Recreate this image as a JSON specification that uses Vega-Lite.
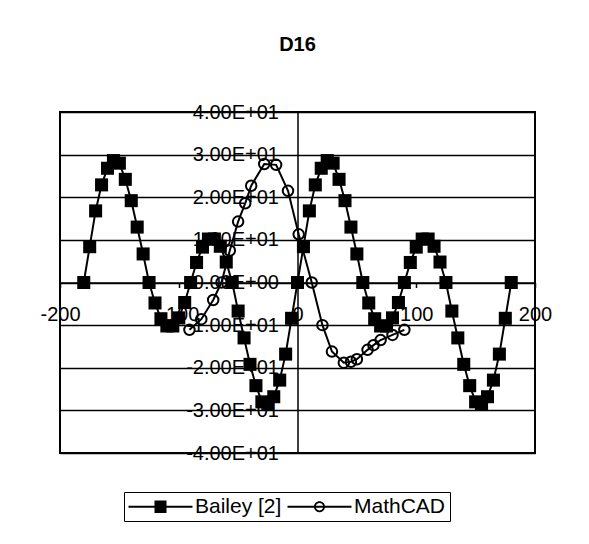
{
  "$schema": "https://vega.github.io/schema/vega-lite/v6.json",
  "width": 475,
  "height": 341,
  "padding": {"left": 60, "top": 112, "right": 54, "bottom": 91},
  "autosize": {"type": "none"},
  "background": "white",
  "title": {
    "text": "D16",
    "font": "Liberation Sans",
    "fontSize": 20,
    "fontWeight": "bold",
    "color": "black",
    "anchor": "middle",
    "offset": 47
  },
  "config": {
    "font": "Liberation Sans",
    "view": {"stroke": "black", "strokeWidth": 2}
  },
  "datasets": {
    "bailey": [
      {"x": -180, "y": 0}, {"x": -175, "y": 8.4}, {"x": -170, "y": 16.8}, {"x": -165, "y": 22.9},
      {"x": -160, "y": 26.8}, {"x": -155, "y": 28.6}, {"x": -150, "y": 28.0}, {"x": -145, "y": 24.2},
      {"x": -140, "y": 19.2}, {"x": -135, "y": 13.0}, {"x": -130, "y": 6.7}, {"x": -125, "y": 0},
      {"x": -120, "y": -4.8}, {"x": -115, "y": -8.5}, {"x": -110, "y": -10.2}, {"x": -105, "y": -10.2},
      {"x": -100, "y": -8.3}, {"x": -95, "y": -4.7}, {"x": -90, "y": 0}, {"x": -85, "y": 4.7},
      {"x": -80, "y": 8.3}, {"x": -75, "y": 10.2}, {"x": -70, "y": 10.2}, {"x": -65, "y": 8.5},
      {"x": -60, "y": 4.8}, {"x": -55, "y": 0}, {"x": -50, "y": -6.7}, {"x": -45, "y": -13.0},
      {"x": -40, "y": -19.2}, {"x": -35, "y": -24.2}, {"x": -30, "y": -28.0}, {"x": -25, "y": -28.6},
      {"x": -20, "y": -26.8}, {"x": -15, "y": -22.9}, {"x": -10, "y": -16.8}, {"x": -5, "y": -8.4},
      {"x": 0, "y": 0}, {"x": 5, "y": 8.4}, {"x": 10, "y": 16.8}, {"x": 15, "y": 22.9},
      {"x": 20, "y": 26.8}, {"x": 25, "y": 28.6}, {"x": 30, "y": 28.0}, {"x": 35, "y": 24.2},
      {"x": 40, "y": 19.2}, {"x": 45, "y": 13.0}, {"x": 50, "y": 6.7}, {"x": 55, "y": 0},
      {"x": 60, "y": -4.8}, {"x": 65, "y": -8.5}, {"x": 70, "y": -10.2}, {"x": 75, "y": -10.2},
      {"x": 80, "y": -8.3}, {"x": 85, "y": -4.7}, {"x": 90, "y": 0}, {"x": 95, "y": 4.7},
      {"x": 100, "y": 8.3}, {"x": 105, "y": 10.2}, {"x": 110, "y": 10.2}, {"x": 115, "y": 8.5},
      {"x": 120, "y": 4.8}, {"x": 125, "y": 0}, {"x": 130, "y": -6.7}, {"x": 135, "y": -13.0},
      {"x": 140, "y": -19.2}, {"x": 145, "y": -24.2}, {"x": 150, "y": -28.0}, {"x": 155, "y": -28.6},
      {"x": 160, "y": -26.8}, {"x": 165, "y": -22.9}, {"x": 170, "y": -16.8}, {"x": 175, "y": -8.4},
      {"x": 180, "y": 0}
    ],
    "mathcad": [
      {"x": -91, "y": -11.1}, {"x": -81, "y": -8.6}, {"x": -71, "y": -4.1}, {"x": -64, "y": 0},
      {"x": -57, "y": 7.5}, {"x": -50, "y": 14.3}, {"x": -44, "y": 18.6}, {"x": -39, "y": 22.7},
      {"x": -28, "y": 27.8}, {"x": -18, "y": 27.6}, {"x": -8, "y": 21.5}, {"x": 1, "y": 11.3},
      {"x": 12, "y": 0}, {"x": 21, "y": -10}, {"x": 29, "y": -16.2}, {"x": 39, "y": -18.8},
      {"x": 45, "y": -18.6}, {"x": 50, "y": -18}, {"x": 59, "y": -15.8}, {"x": 64, "y": -14.7},
      {"x": 70, "y": -13.5}, {"x": 80, "y": -12.3}, {"x": 90, "y": -11.1}
    ],
    "series": [
      {"series": "Bailey [2]"}, {"series": "MathCAD"}
    ]
  },
  "layer": [
    {
      "data": {"name": "bailey"},
      "mark": {"type": "line", "color": "black", "strokeWidth": 2},
      "encoding": {
        "x": {
          "field": "x", "type": "quantitative",
          "scale": {"domain": [-200, 200], "nice": false, "zero": false},
          "axis": {
            "orient": "bottom", "offset": -170.5, "title": null,
            "values": [-200, -100, 0, 100, 200],
            "labelExpr": "(datum.value < 0 ? '-' : '') + abs(datum.value)",
            "grid": false, "domainColor": "black", "domainWidth": 1.5,
            "tickColor": "black", "tickSize": 5, "tickWidth": 1.5,
            "labelFont": "Liberation Sans", "labelFontSize": 20, "labelColor": "black",
            "labelPadding": 17, "labelFlush": false, "labelOverlap": false
          }
        },
        "y": {
          "field": "y", "type": "quantitative",
          "scale": {"domain": [-40, 40], "nice": false, "zero": false},
          "axis": {
            "orient": "left", "offset": -237.5, "title": null,
            "values": [-40, -30, -20, -10, 0, 10, 20, 30, 40],
            "grid": true, "gridColor": "black", "gridWidth": 1.5, "gridOpacity": 1,
            "domainColor": "black", "domainWidth": 1.5,
            "ticks": false,
            "labelExpr": "datum.value == 0 ? '0.00E+00' : (datum.value < 0 ? '-' : '') + format(abs(datum.value) / 10, '.2f') + 'E+01'",
            "labelFont": "Liberation Sans", "labelFontSize": 20, "labelColor": "black",
            "labelPadding": 19, "labelOverlap": false
          }
        }
      }
    },
    {
      "data": {"name": "mathcad"},
      "mark": {"type": "line", "color": "black", "strokeWidth": 2},
      "encoding": {
        "x": {"field": "x", "type": "quantitative"},
        "y": {"field": "y", "type": "quantitative"}
      }
    },
    {
      "data": {"name": "bailey"},
      "mark": {"type": "point", "shape": "square", "filled": true, "color": "black", "size": 170, "opacity": 1},
      "encoding": {
        "x": {"field": "x", "type": "quantitative"},
        "y": {"field": "y", "type": "quantitative"}
      }
    },
    {
      "data": {"name": "mathcad"},
      "mark": {"type": "point", "shape": "circle", "filled": false, "color": "black", "size": 110, "strokeWidth": 2, "opacity": 1},
      "encoding": {
        "x": {"field": "x", "type": "quantitative"},
        "y": {"field": "y", "type": "quantitative"}
      }
    },
    {
      "data": {"name": "series"},
      "mark": {"type": "point", "filled": true, "color": "black", "opacity": 0},
      "encoding": {
        "shape": {
          "field": "series", "type": "nominal",
          "scale": {
            "domain": ["Bailey [2]", "MathCAD"],
            "range": [
              "M-1,-0.1H5.4V0.1H-1Z M1.6,-0.62H2.8V0.62H1.6Z",
              "M-1,-0.1H5.4V0.1H-1Z M2.75,0A0.55,0.55,0,1,1,1.65,0A0.55,0.55,0,1,1,2.75,0Z M2.57,0A0.37,0.37,0,1,0,1.83,0A0.37,0.37,0,1,0,2.57,0Z"
            ]
          },
          "legend": {
            "orient": "none", "legendX": 64, "legendY": 380,
            "direction": "horizontal", "title": null,
            "padding": 4, "strokeColor": "black",
            "symbolSize": 400, "symbolOpacity": 1,
            "symbolFillColor": "black", "symbolStrokeWidth": 0,
            "labelFont": "Liberation Sans", "labelFontSize": 21, "labelColor": "black",
            "labelOffset": 46, "columnPadding": 5
          }
        }
      }
    }
  ]
}
